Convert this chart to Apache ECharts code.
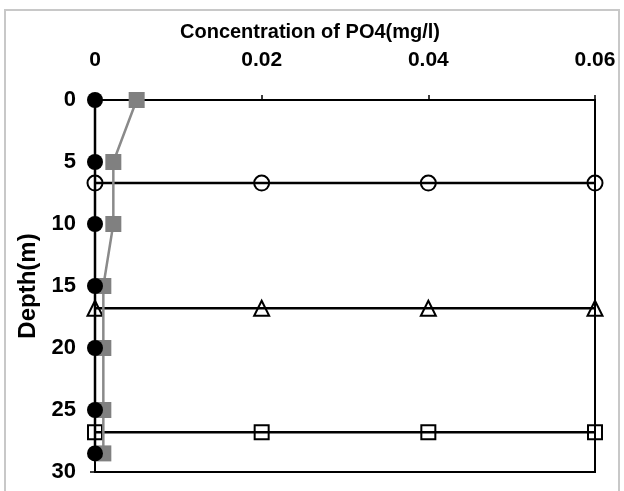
<!DOCTYPE html>
<html>
<head>
<meta charset="utf-8">
<script src="https://cdn.jsdelivr.net/npm/echarts@6/dist/echarts.min.js"></script>
<style>html,body{margin:0;padding:0;background:#fff}#c{width:624px;height:491px}</style>
</head>
<body>
<div id="c"></div>
<script>
// Data
var depths = [0, 5, 10, 15, 20, 25, 28.5];
var blackVals = [0, 0, 0, 0, 0, 0, 0];
var grayVals = [0.005, 0.0022, 0.0022, 0.001, 0.001, 0.001, 0.001];
var refX = [0, 0.02, 0.04, 0.06];
var circleDepth = 6.7;
var triangleDepth = 16.8;
var squareDepth = 26.8;
var xTicks = [0, 0.02, 0.04, 0.06];
var yTicks = [0, 5, 10, 15, 20, 25, 30];

function pairs(xs, ys) { return xs.map(function (x, i) { return [x, ys[i]]; }); }
function flat(xs, d) { return xs.map(function (x) { return [x, d]; }); }

var chart = echarts.init(document.getElementById('c'), null, { renderer: 'canvas' });
var font = 'Arial, "Liberation Sans", sans-serif';
var hollow = { color: 'transparent', borderColor: '#000', borderWidth: 2 };

chart.setOption({
  animation: false,
  backgroundColor: '#fff',
  grid: { left: 95, right: 29, top: 100, bottom: 19, show: true, borderColor: '#000', borderWidth: 2, backgroundColor: 'transparent' },
  graphic: [
    { type: 'rect', shape: { x: 5, y: 10, width: 614, height: 490 }, style: { fill: 'none', stroke: '#c8c8c8', lineWidth: 2 }, z: -10 },
    { type: 'text', left: 180, top: 22, style: { text: 'Concentration of PO4(mg/l)', font: 'bold 20px ' + font, fill: '#000' } }
  ],
  xAxis: {
    type: 'value', position: 'top', min: 0, max: 0.06, interval: 0.02,
    axisLine: { show: true, lineStyle: { color: '#000', width: 2 } },
    axisTick: { show: true, length: 5, lineStyle: { color: '#000', width: 1.5 } },
    axisLabel: { color: '#000', fontWeight: 'bold', fontSize: 21, fontFamily: font, margin: 29,
      formatter: function (v) { return v === 0 ? '0' : String(+v.toFixed(2)); } },
    splitLine: { show: false }
  },
  yAxis: {
    type: 'value', inverse: true, min: 0, max: 30, interval: 5,
    name: 'Depth(m)', nameLocation: 'middle', nameGap: 51,
    nameTextStyle: { color: '#000', fontWeight: 'bold', fontSize: 24, fontFamily: font },
    axisLine: { show: true, lineStyle: { color: '#000', width: 2 } },
    axisTick: { show: true, length: 5, lineStyle: { color: '#000', width: 1.5 } },
    axisLabel: { color: '#000', fontWeight: 'bold', fontSize: 22, fontFamily: font, margin: 19 },
    splitLine: { show: false }
  },
  series: [
    { type: 'line', data: flat(refX, circleDepth), symbol: 'circle', symbolSize: 15, itemStyle: hollow, lineStyle: { color: '#000', width: 2.5 }, z: 3 },
    { type: 'line', data: flat(refX, triangleDepth), symbol: 'triangle', symbolSize: 15, itemStyle: hollow, lineStyle: { color: '#000', width: 2.5 }, z: 3 },
    { type: 'line', data: flat(refX, squareDepth), symbol: 'rect', symbolSize: 14, itemStyle: hollow, lineStyle: { color: '#000', width: 2.5 }, z: 3 },
    { type: 'line', data: pairs(grayVals, depths), symbol: 'rect', symbolSize: 16, itemStyle: { color: '#808080' }, lineStyle: { color: '#8a8a8a', width: 2.5 }, z: 4 },
    { type: 'line', data: pairs(blackVals, depths), symbol: 'circle', symbolSize: 16, itemStyle: { color: '#000' }, lineStyle: { color: '#000', width: 2.5 }, z: 5 }
  ]
});
</script>
</body>
</html>
